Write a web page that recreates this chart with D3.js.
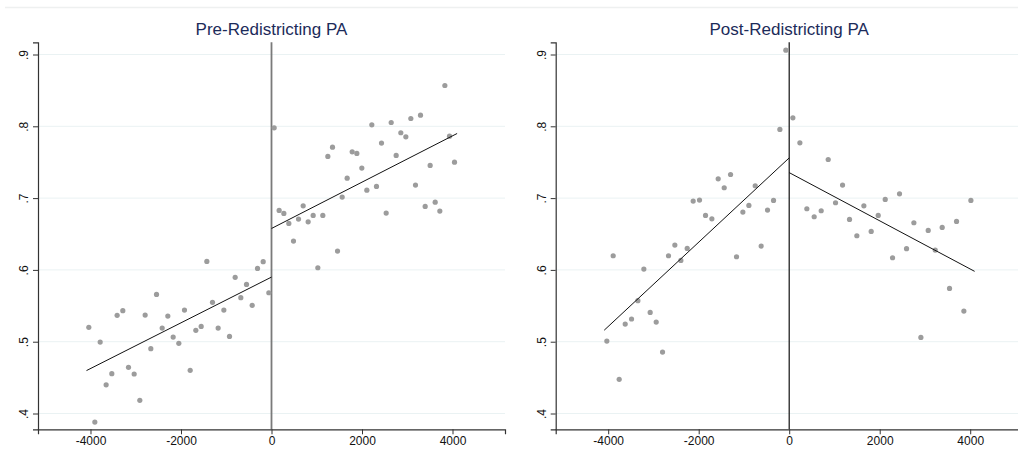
<!DOCTYPE html>
<html>
<head>
<meta charset="utf-8">
<script src="https://cdn.jsdelivr.net/npm/d3@7"></script>
<style>
  body { margin: 0; background: #fff; }
  text { font-family: "Liberation Sans", Arial, sans-serif; }
</style>
</head>
<body>
<div id="chart-area"></div>
<script>
// DATA (binned means)
var preLeftX = [-4037, -3904, -3786, -3654, -3529, -3411, -3286, -3160, -3035, -2910, -2792, -2667, -2541, -2416, -2291, -2173, -2048, -1923, -1797, -1672, -1554, -1429, -1304, -1179, -1053, -928, -803, -678, -552, -427, -309, -184, -59];
var preLeftY = [0.520, 0.388, 0.4995, 0.440, 0.4555, 0.5367, 0.5432, 0.4643, 0.455, 0.4183, 0.5371, 0.4903, 0.5659, 0.519, 0.5357, 0.5065, 0.4977, 0.544, 0.4601, 0.5158, 0.5213, 0.6118, 0.5548, 0.519, 0.544, 0.5074, 0.5896, 0.5613, 0.5798, 0.5506, 0.6021, 0.6114, 0.5682];
var preRightX = [59, 169, 273, 383, 486, 597, 700, 810, 921, 1024, 1134, 1245, 1348, 1459, 1562, 1672, 1783, 1886, 1996, 2107, 2217, 2320, 2431, 2534, 2645, 2755, 2858, 2969, 3079, 3182, 3293, 3396, 3506, 3617, 3720, 3831, 3934, 4044];
var preRightY = [0.7979, 0.6828, 0.6787, 0.6647, 0.6401, 0.6708, 0.6893, 0.667, 0.6759, 0.603, 0.6759, 0.758, 0.771, 0.6262, 0.7014, 0.7278, 0.7645, 0.7622, 0.7418, 0.7111, 0.8021, 0.7162, 0.7766, 0.6791, 0.8053, 0.7594, 0.7910, 0.7854, 0.8109, 0.7181, 0.8155, 0.6884, 0.7455, 0.6944, 0.6819, 0.8568, 0.7863, 0.7501];

var postLeftX = [-4030, -3890, -3757, -3624, -3484, -3344, -3212, -3072, -2939, -2799, -2667, -2527, -2394, -2254, -2122, -1982, -1849, -1709, -1569, -1436, -1296, -1164, -1024, -891, -751, -619, -479, -346, -206, -74];
var postLeftY = [0.5009, 0.6197, 0.4476, 0.5246, 0.5316, 0.5571, 0.6012, 0.5408, 0.5274, 0.4856, 0.6197, 0.6346, 0.6132, 0.6299, 0.6958, 0.6972, 0.6759, 0.6712, 0.7269, 0.7144, 0.7329, 0.6183, 0.6805, 0.6898, 0.7172, 0.6332, 0.6833, 0.6967, 0.7956, 0.906];
var postRightX = [81, 236, 390, 552, 707, 862, 1024, 1179, 1333, 1495, 1650, 1812, 1967, 2122, 2284, 2438, 2593, 2755, 2910, 3072, 3227, 3381, 3543, 3698, 3860, 4015];
var postRightY = [0.8118, 0.777, 0.6852, 0.674, 0.6824, 0.7538, 0.6935, 0.7181, 0.6703, 0.6476, 0.6893, 0.6536, 0.6759, 0.6981, 0.6169, 0.706, 0.6295, 0.6657, 0.506, 0.655, 0.6276, 0.6592, 0.5742, 0.6675, 0.5427, 0.6967];

// fitted lines: [x0, y0, x1, y1]
var preFitLeft = [-4088, 0.4598, 0, 0.590];
var preFitRight = [0, 0.6577, 4102, 0.790];
var postFitLeft = [-4088, 0.516, 0, 0.756];
var postFitRight = [0, 0.7355, 4097, 0.598];

var yTicks = [0.4, 0.5, 0.6, 0.7, 0.8, 0.9];
var xTicks = [-4000, -2000, 0, 2000, 4000];

var W = 1018, H = 453;

var svg = d3.select("#chart-area")
	.append("svg")
	.attr("width", W)
	.attr("height", H);

// faint outer band line at the top
svg.append("line")
	.attr("x1", 5).attr("x2", W)
	.attr("y1", 7.5).attr("y2", 7.5)
	.attr("stroke", "#eef0f0")
	.attr("stroke-width", 1.5);

var y = d3.scaleLinear()
	.domain([0.378, 0.917])
	.range([429.3, 42.3]);

function panel(left, title, ptsL, ptsR, fitL, fitR, cutColor, cutWidth) {
	var x = d3.scaleLinear()
		.domain([-5160, 5160])
		.range([left, left + 467]);

	var g = svg.append("g");

	// gridlines
	g.selectAll(".grid")
		.data(yTicks)
		.enter().append("line")
		.attr("class", "grid")
		.attr("x1", left).attr("x2", left + 467)
		.attr("y1", function (d) { return y(d); })
		.attr("y2", function (d) { return y(d); })
		.attr("stroke", "#eaf2f3")
		.attr("stroke-width", 1);

	// cutoff line
	g.append("line")
		.attr("x1", x(0)).attr("x2", x(0))
		.attr("y1", y(0.917)).attr("y2", y(0.378))
		.attr("stroke", cutColor)
		.attr("stroke-width", cutWidth);

	// points
	var pts = ptsL.concat(ptsR);
	g.selectAll("circle")
		.data(pts)
		.enter().append("circle")
		.attr("cx", function (d) { return x(d[0]); })
		.attr("cy", function (d) { return y(d[1]); })
		.attr("r", 2.6)
		.attr("fill", "#9c9c9c");

	// fit lines
	[fitL, fitR].forEach(function (f) {
		g.append("line")
			.attr("x1", x(f[0])).attr("y1", y(f[1]))
			.attr("x2", x(f[2])).attr("y2", y(f[3]))
			.attr("stroke", "#111")
			.attr("stroke-width", 1);
	});

	// Y AXIS
	var yAxis = d3.axisLeft(y)
		.tickValues(yTicks)
		.tickSize(5)
		.tickFormat(function (d) { return d3.format(".1f")(d).replace(/^0/, ""); });
	var ya = g.append("g")
		.attr("transform", "translate(" + left + ",0)")
		.call(yAxis);
	ya.select(".domain").attr("stroke", "#333").attr("stroke-width", 1.2);
	ya.selectAll(".tick line").attr("stroke", "#333");
	ya.selectAll(".tick text")
		.attr("font-size", "12px")
		.attr("fill", "#111")
		.attr("x", 0).attr("dy", 0)
		.attr("text-anchor", "middle")
		.attr("transform", "translate(-10,0) rotate(-90)");

	// X AXIS
	var xAxis = d3.axisBottom(x)
		.tickValues(xTicks)
		.tickSize(5)
		.tickFormat(function (d) { return String(d); });
	var xa = g.append("g")
		.attr("transform", "translate(0,429.3)")
		.call(xAxis);
	xa.select(".domain").attr("stroke", "#333").attr("stroke-width", 1.2);
	xa.selectAll(".tick line").attr("stroke", "#333");
	xa.selectAll(".tick text")
		.attr("font-size", "12px")
		.attr("fill", "#111")
		.attr("y", 7);

	// TITLE
	g.append("text")
		.attr("x", left + 467 / 2)
		.attr("y", 35)
		.attr("text-anchor", "middle")
		.attr("font-size", "17px")
		.attr("fill", "#1c2b5a")
		.text(title);
}

function zip(a, b) { return a.map(function (v, i) { return [v, b[i]]; }); }

panel(38, "Pre-Redistricting PA", zip(preLeftX, preLeftY), zip(preRightX, preRightY),
	preFitLeft, preFitRight, "#7a7a7a", 1.8);
panel(555.7, "Post-Redistricting PA", zip(postLeftX, postLeftY), zip(postRightX, postRightY),
	postFitLeft, postFitRight, "#111", 1.2);
</script>
</body>
</html>
